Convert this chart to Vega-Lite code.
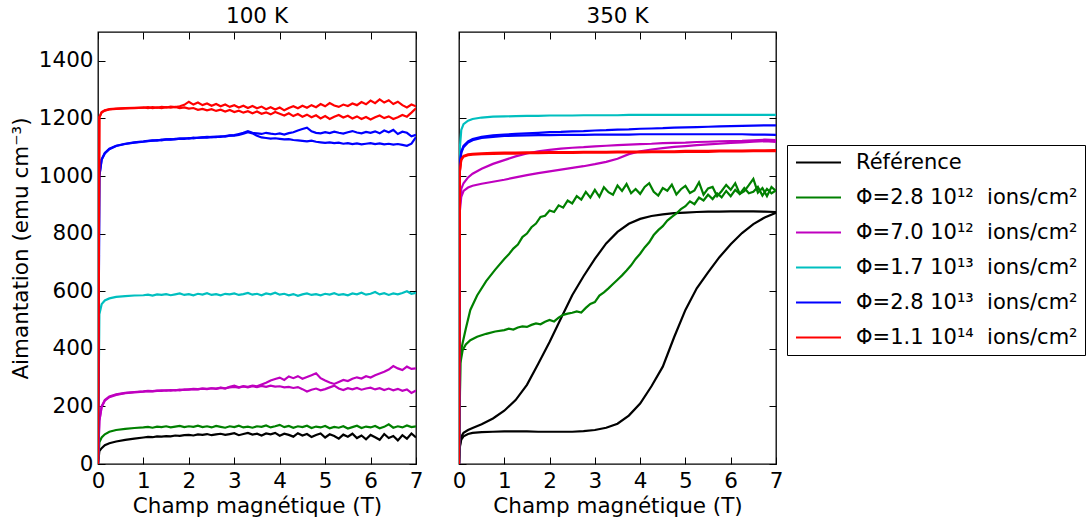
{
"$schema": "https://vega.github.io/schema/vega-lite/v6.json",
"padding": {"left": 9, "top": 5, "right": 0, "bottom": 0},
"config": {
  "font": "DejaVu Sans",
  "view": {"stroke": "black", "strokeWidth": 1.3},
  "axis": {"grid": false, "domain": false, "tickSize": -7, "tickColor": "black", "tickWidth": 1, "labelFontSize": 21.5, "labelColor": "black", "titleFontSize": 21.5, "titleFontWeight": "normal", "titleColor": "black", "labelFlush": false, "labelOverlap": false, "labelPadding": 13, "format": "d"},
  "title": {"fontSize": 21.5, "fontWeight": "normal", "color": "black", "offset": 4},
  "line": {"strokeWidth": 2.2}
},
"datasets": {
"d": [
{"panel":"100 K","series":"Référence","branch":"a","x":[0,0.03,0.08,0.15,0.25,0.4,0.6,0.8,1,1.1,1.2,1.3,1.4,1.5,1.6,1.7,1.8,1.9,2,2.1,2.2,2.3,2.4,2.5,2.6,2.7,2.8,2.9,3,3.1,3.2,3.3,3.4,3.5,3.6,3.7,3.8,3.9,4,4.1,4.2,4.3,4.4,4.5,4.6,4.7,4.8,4.9,5,5.1,5.2,5.3,5.4,5.5,5.6,5.7,5.8,5.9,6,6.1,6.2,6.3,6.4,6.5,6.6,6.7,6.8,6.9,7],
 "y":[0,45,55,65,72,78,84,88, 92,94,93,96,95,97,96,99,98,100, 101,99,103,101,104,100,103,105,101,104, 107,100,104,108,102,105,99,106,103,108, 98,105,101,95,107,99,104,94,101,106, 92,103,97,88,102,95,105,90,99,86, 101,93,84,104,90,97,82,100,88,106, 92]},
{"panel":"100 K","series":"Φ=2.8 10¹² ions/cm²","branch":"a","x":[0,0.03,0.08,0.15,0.25,0.4,0.6,0.8,1,1.1,1.2,1.3,1.4,1.5,1.6,1.7,1.8,1.9,2,2.1,2.2,2.3,2.4,2.5,2.6,2.7,2.8,2.9,3,3.1,3.2,3.3,3.4,3.5,3.6,3.7,3.8,3.9,4,4.1,4.2,4.3,4.4,4.5,4.6,4.7,4.8,4.9,5,5.1,5.2,5.3,5.4,5.5,5.6,5.7,5.8,5.9,6,6.1,6.2,6.3,6.4,6.5,6.6,6.7,6.8,6.9,7],
 "y":[0,75,92,103,112,118,122,125, 127,129,126,130,128,131,127,130,132,128, 131,129,133,128,131,127,132,129,126,131, 128,133,127,130,126,131,129,134,127,131, 136,128,132,126,131,128,133,125,130,127, 132,124,129,126,131,123,128,133,125,130, 127,132,124,129,138,126,131,127,134,128, 131]},
{"panel":"100 K","series":"Φ=7.0 10¹² ions/cm²","branch":"a","x":[0,0.03,0.08,0.15,0.25,0.4,0.6,0.8,1,1.1,1.2,1.3,1.4,1.5,1.6,1.7,1.8,1.9,2,2.1,2.2,2.3,2.4,2.5,2.6,2.7,2.8,2.9,3,3.1,3.2,3.3,3.4,3.5,3.6,3.7,3.8,3.9,4,4.1,4.2,4.3,4.4,4.5,4.6,4.7,4.8,4.9,5,5.1,5.2,5.3,5.4,5.5,5.6,5.7,5.8,5.9,6,6.1,6.2,6.3,6.4,6.5,6.6,6.7,6.8,6.9,7],
 "y":[0,150,200,222,234,242,247,250, 252,254,253,255,254,256,255,257,256,259, 258,260,259,262,260,263,261,264,262,268, 272,266,270,268,272,270,276,282,290,295, 300,292,304,298,305,296,302,308,315,298, 290,283,278,285,292,288,296,301,297,305, 300,308,314,320,328,340,332,326,338,330, 332]},
{"panel":"100 K","series":"Φ=7.0 10¹² ions/cm²","branch":"b","x":[0,0.03,0.08,0.15,0.25,0.4,0.6,0.8,1,1.1,1.2,1.3,1.4,1.5,1.6,1.7,1.8,1.9,2,2.1,2.2,2.3,2.4,2.5,2.6,2.7,2.8,2.9,3,3.1,3.2,3.3,3.4,3.5,3.6,3.7,3.8,3.9,4,4.1,4.2,4.3,4.4,4.5,4.6,4.7,4.8,4.9,5,5.1,5.2,5.3,5.4,5.5,5.6,5.7,5.8,5.9,6,6.1,6.2,6.3,6.4,6.5,6.6,6.7,6.8,6.9,7],
 "y":[0,150,198,220,232,240,246,249, 251,253,252,254,256,255,257,256,258,257, 259,261,260,262,261,263,262,265,263,266, 268,265,269,266,270,267,271,268,272,269, 270,266,268,264,267,260,252,258,262,256, 260,266,272,262,257,263,259,264,258,262, 265,259,263,257,262,256,261,254,259,247, 255]},
{"panel":"100 K","series":"Φ=1.7 10¹³ ions/cm²","branch":"a","x":[0,0.03,0.08,0.15,0.25,0.4,0.6,0.8,1,1.1,1.2,1.3,1.4,1.5,1.6,1.7,1.8,1.9,2,2.1,2.2,2.3,2.4,2.5,2.6,2.7,2.8,2.9,3,3.1,3.2,3.3,3.4,3.5,3.6,3.7,3.8,3.9,4,4.1,4.2,4.3,4.4,4.5,4.6,4.7,4.8,4.9,5,5.1,5.2,5.3,5.4,5.5,5.6,5.7,5.8,5.9,6,6.1,6.2,6.3,6.4,6.5,6.6,6.7,6.8,6.9,7],
 "y":[0,520,555,568,575,580,583,585, 586,588,585,589,587,590,586,589,592,587, 590,586,591,588,593,587,590,586,591,589, 592,587,590,594,588,591,586,592,589,595, 588,591,586,590,584,589,592,587,590,586, 591,588,593,587,590,586,592,589,595,588, 591,597,589,593,587,592,589,594,600,591, 594]},
{"panel":"100 K","series":"Φ=2.8 10¹³ ions/cm²","branch":"a","x":[0,0.03,0.08,0.15,0.25,0.4,0.6,0.8,1,1.1,1.2,1.3,1.4,1.5,1.6,1.7,1.8,1.9,2,2.1,2.2,2.3,2.4,2.5,2.6,2.7,2.8,2.9,3,3.1,3.2,3.3,3.4,3.5,3.6,3.7,3.8,3.9,4,4.1,4.2,4.3,4.4,4.5,4.6,4.7,4.8,4.9,5,5.1,5.2,5.3,5.4,5.5,5.6,5.7,5.8,5.9,6,6.1,6.2,6.3,6.4,6.5,6.6,6.7,6.8,6.9,7],
 "y":[0,1000,1058,1080,1095,1105,1112,1117, 1120,1122,1124,1123,1126,1127,1126,1129,1130,1129, 1132,1131,1133,1134,1133,1136,1135,1138,1137,1140, 1142,1146,1150,1156,1150,1148,1146,1150,1147,1145, 1148,1144,1149,1152,1158,1163,1168,1155,1150,1148, 1152,1149,1154,1150,1147,1152,1156,1151,1148,1153, 1150,1155,1148,1158,1152,1160,1146,1154,1150,1138, 1143]},
{"panel":"100 K","series":"Φ=2.8 10¹³ ions/cm²","branch":"b","x":[0,0.03,0.08,0.15,0.25,0.4,0.6,0.8,1,1.1,1.2,1.3,1.4,1.5,1.6,1.7,1.8,1.9,2,2.1,2.2,2.3,2.4,2.5,2.6,2.7,2.8,2.9,3,3.1,3.2,3.3,3.4,3.5,3.6,3.7,3.8,3.9,4,4.1,4.2,4.3,4.4,4.5,4.6,4.7,4.8,4.9,5,5.1,5.2,5.3,5.4,5.5,5.6,5.7,5.8,5.9,6,6.1,6.2,6.3,6.4,6.5,6.6,6.7,6.8,6.9,7],
 "y":[0,1000,1056,1078,1093,1104,1111,1116, 1119,1121,1123,1125,1124,1127,1128,1127,1130,1131, 1130,1133,1132,1134,1136,1135,1137,1136,1139,1141, 1140,1143,1147,1152,1148,1140,1134,1132,1130,1131, 1129,1127,1128,1125,1124,1122,1120,1123,1119,1117, 1115,1117,1114,1116,1112,1114,1111,1113,1110,1112, 1114,1111,1113,1110,1112,1109,1111,1108,1105,1112, 1135]},
{"panel":"100 K","series":"Φ=1.1 10¹⁴ ions/cm²","branch":"a","x":[0,0.03,0.08,0.15,0.25,0.4,0.6,0.8,1,1.1,1.2,1.3,1.4,1.5,1.6,1.7,1.8,1.9,2,2.1,2.2,2.3,2.4,2.5,2.6,2.7,2.8,2.9,3,3.1,3.2,3.3,3.4,3.5,3.6,3.7,3.8,3.9,4,4.1,4.2,4.3,4.4,4.5,4.6,4.7,4.8,4.9,5,5.1,5.2,5.3,5.4,5.5,5.6,5.7,5.8,5.9,6,6.1,6.2,6.3,6.4,6.5,6.6,6.7,6.8,6.9,7],
 "y":[0,1205,1222,1228,1232,1234,1236,1237, 1238,1236,1239,1237,1240,1238,1241,1239,1242,1247, 1258,1248,1255,1246,1252,1244,1250,1242,1248,1240, 1246,1238,1244,1236,1243,1235,1241,1232,1239,1231, 1238,1228,1236,1242,1235,1244,1237,1246,1239,1250, 1242,1253,1245,1240,1248,1243,1252,1246,1257,1249, 1262,1253,1266,1255,1263,1250,1258,1246,1238,1248, 1242]},
{"panel":"100 K","series":"Φ=1.1 10¹⁴ ions/cm²","branch":"b","x":[0,0.03,0.08,0.15,0.25,0.4,0.6,0.8,1,1.1,1.2,1.3,1.4,1.5,1.6,1.7,1.8,1.9,2,2.1,2.2,2.3,2.4,2.5,2.6,2.7,2.8,2.9,3,3.1,3.2,3.3,3.4,3.5,3.6,3.7,3.8,3.9,4,4.1,4.2,4.3,4.4,4.5,4.6,4.7,4.8,4.9,5,5.1,5.2,5.3,5.4,5.5,5.6,5.7,5.8,5.9,6,6.1,6.2,6.3,6.4,6.5,6.6,6.7,6.8,6.9,7],
 "y":[0,1203,1220,1227,1231,1233,1235,1236, 1237,1239,1236,1238,1236,1239,1237,1240,1236,1238, 1234,1236,1230,1233,1228,1232,1226,1230,1224,1229, 1222,1227,1220,1225,1218,1224,1216,1221,1214,1222, 1216,1210,1218,1208,1215,1206,1213,1204,1211,1200, 1208,1198,1206,1212,1203,1209,1200,1207,1198,1205, 1196,1204,1210,1201,1207,1198,1204,1212,1206,1220, 1235]},
{"panel":"350 K","series":"Référence","branch":"a","x":[0,0.02,0.05,0.1,0.2,0.3,0.5,0.75,1,1.25,1.5,1.75,2,2.25,2.5,2.75,3,3.25,3.5,3.75,4,4.25,4.5,4.75,5,5.25,5.5,5.75,6,6.25,6.5,6.75,7],
 "y":[0,60,85,96,104,108,111, 112,113,113,113,112,112,112,112,114,118,126,140,168,210,270,338,440,535,610,665,718,763,802,833,856,872]},
{"panel":"350 K","series":"Référence","branch":"b","x":[0,0.02,0.05,0.1,0.2,0.3,0.5,0.75,1,1.25,1.5,1.75,2,2.25,2.5,2.75,3,3.25,3.5,3.75,4,4.25,4.5,4.75,5,5.25,5.5,5.75,6,6.25,6.5,6.75,7],
 "y":[0,65,95,108,118,125,138, 158,185,222,275,348,424,505,586,652,712,766,806,834,851,861,867,871,873,875,876,876,877,877,877,876,875]},
{"panel":"350 K","series":"Φ=2.8 10¹² ions/cm²","branch":"a","x":[0,0.03,0.08,0.15,0.25,0.4,0.6,0.8,1,1.1,1.2,1.3,1.4,1.5,1.6,1.7,1.8,1.9,2,2.1,2.2,2.3,2.4,2.5,2.6,2.7,2.8,2.9,3,3.1,3.2,3.3,3.4,3.5,3.6,3.7,3.8,3.9,4,4.1,4.2,4.3,4.4,4.5,4.6,4.7,4.8,4.9,5,5.1,5.2,5.3,5.4,5.5,5.6,5.7,5.8,5.9,6,6.1,6.2,6.3,6.4,6.5,6.6,6.7,6.8,6.9,7],
 "y":[0,350,395,415,430,442,452,460, 465,470,467,474,478,476,483,488,485,494, 500,495,508,518,522,525,530,526,542,556, 562,585,596,610,625,640,655,672,690,712, 730,752,770,795,812,826,845,858,870,885, 895,912,902,925,915,935,920,940,926,948, 930,952,938,958,940,945,962,932,955,940, 950]},
{"panel":"350 K","series":"Φ=2.8 10¹² ions/cm²","branch":"b","x":[0,0.03,0.08,0.15,0.25,0.4,0.6,0.8,1,1.1,1.2,1.3,1.4,1.5,1.6,1.7,1.8,1.9,2,2.1,2.2,2.3,2.4,2.5,2.6,2.7,2.8,2.9,3,3.1,3.2,3.3,3.4,3.5,3.6,3.7,3.8,3.9,4,4.1,4.2,4.3,4.4,4.5,4.6,4.7,4.8,4.9,5,5.1,5.2,5.3,5.4,5.5,5.6,5.7,5.8,5.9,6,6.1,6.2,6.3,6.4,6.5,6.6,6.7,6.8,6.9,7],
 "y":[0,380,420,470,535,585,635,675, 712,728,748,762,788,800,822,835,858,862, 880,875,898,890,915,905,930,918,945,925, 952,928,961,944,935,967,948,972,940,955, 938,962,975,945,932,958,949,970,936,954, 966,941,950,978,935,957,962,930,948,969, 952,975,938,947,968,990,942,958,930,962, 948]},
{"panel":"350 K","series":"Φ=7.0 10¹² ions/cm²","branch":"a","x":[0,0.02,0.05,0.1,0.2,0.3,0.5,0.75,1,1.25,1.5,1.75,2,2.25,2.5,2.75,3,3.25,3.5,3.75,4,4.25,4.5,4.75,5,5.25,5.5,5.75,6,6.25,6.5,6.75,7],
 "y":[0,900,955,975,995,1008,1025, 1042,1055,1068,1078,1086,1091,1095,1098,1100,1103,1105,1107,1109,1111,1112,1114,1115,1116,1118,1119,1120,1121,1122,1124,1126,1125]},
{"panel":"350 K","series":"Φ=7.0 10¹² ions/cm²","branch":"b","x":[0,0.02,0.05,0.1,0.2,0.3,0.5,0.75,1,1.25,1.5,1.75,2,2.25,2.5,2.75,3,3.25,3.5,3.75,4,4.25,4.5,4.75,5,5.25,5.5,5.75,6,6.25,6.5,6.75,7],
 "y":[0,880,928,948,960,966,973, 980,987,995,1003,1010,1016,1022,1028,1034,1041,1049,1060,1076,1086,1092,1097,1101,1104,1107,1110,1112,1115,1117,1119,1121,1118]},
{"panel":"350 K","series":"Φ=1.7 10¹³ ions/cm²","branch":"a","x":[0,0.02,0.05,0.1,0.2,0.3,0.5,0.75,1,1.25,1.5,1.75,2,2.25,2.5,2.75,3,3.25,3.5,3.75,4,4.25,4.5,4.75,5,5.25,5.5,5.75,6,6.25,6.5,6.75,7],
 "y":[0,1100,1160,1180,1192,1198,1203, 1206,1207,1208,1209,1209,1210,1210,1210,1211,1211,1211,1211,1212,1212,1212,1212,1212,1212,1212,1212,1212,1212,1212,1212,1212,1212]},
{"panel":"350 K","series":"Φ=2.8 10¹³ ions/cm²","branch":"a","x":[0,0.02,0.05,0.1,0.2,0.3,0.5,0.75,1,1.25,1.5,1.75,2,2.25,2.5,2.75,3,3.25,3.5,3.75,4,4.25,4.5,4.75,5,5.25,5.5,5.75,6,6.25,6.5,6.75,7],
 "y":[0,1040,1085,1105,1120,1128,1136, 1141,1144,1146,1148,1150,1152,1153,1155,1156,1158,1159,1161,1162,1164,1165,1166,1168,1169,1170,1171,1172,1173,1174,1175,1176,1176]},
{"panel":"350 K","series":"Φ=2.8 10¹³ ions/cm²","branch":"b","x":[0,0.02,0.05,0.1,0.2,0.3,0.5,0.75,1,1.25,1.5,1.75,2,2.25,2.5,2.75,3,3.25,3.5,3.75,4,4.25,4.5,4.75,5,5.25,5.5,5.75,6,6.25,6.5,6.75,7],
 "y":[0,1035,1080,1100,1116,1124,1132, 1136,1139,1140,1141,1142,1142,1143,1143,1143,1144,1144,1144,1144,1145,1145,1145,1145,1145,1145,1145,1145,1145,1145,1144,1144,1143]},
{"panel":"350 K","series":"Φ=1.1 10¹⁴ ions/cm²","branch":"a","x":[0,0.02,0.05,0.1,0.2,0.3,0.5,0.75,1,1.25,1.5,1.75,2,2.25,2.5,2.75,3,3.25,3.5,3.75,4,4.25,4.5,4.75,5,5.25,5.5,5.75,6,6.25,6.5,6.75,7],
 "y":[0,1020,1058,1070,1075,1077,1079, 1080,1081,1081,1082,1082,1083,1083,1083,1084,1084,1084,1085,1085,1085,1086,1086,1086,1087,1087,1087,1088,1088,1088,1089,1089,1090]},
{"panel":"350 K","series":"Φ=1.1 10¹⁴ ions/cm²","branch":"b","x":[0,0.02,0.05,0.1,0.2,0.3,0.5,0.75,1,1.25,1.5,1.75,2,2.25,2.5,2.75,3,3.25,3.5,3.75,4,4.25,4.5,4.75,5,5.25,5.5,5.75,6,6.25,6.5,6.75,7],
 "y":[0,1015,1055,1067,1072,1074,1076, 1077,1078,1078,1079,1079,1080,1080,1080,1081,1081,1081,1082,1082,1082,1083,1083,1083,1084,1084,1084,1085,1085,1085,1086,1086,1086]}
]
},
"spacing": 27,
"resolve": {"legend": {"color": "independent"}},
"hconcat": [
{
  "width": 318, "height": 432,
  "title": "100 K",
  "data": {"name": "d"},
  "transform": [{"filter": "datum.panel === '100 K'"}, {"flatten": ["x", "y"]}],
  "layer": [
    {"mark": {"type": "line", "clip": true},
     "encoding": {
       "x": {"field": "x", "type": "quantitative", "scale": {"domain": [0, 7], "nice": false}, "axis": {"orient": "bottom", "values": [0,1,2,3,4,5,6,7], "title": "Champ magnétique (T)", "titlePadding": 4}},
       "y": {"field": "y", "type": "quantitative", "scale": {"domain": [0, 1500], "nice": false}, "axis": {"orient": "left", "values": [0,200,400,600,800,1000,1200,1400], "title": "Aimantation (emu cm⁻³)", "labelPadding": 12, "titlePadding": 6}},
       "color": {"field": "series", "type": "nominal", "scale": {"domain": ["Référence","Φ=2.8 10¹² ions/cm²","Φ=7.0 10¹² ions/cm²","Φ=1.7 10¹³ ions/cm²","Φ=2.8 10¹³ ions/cm²","Φ=1.1 10¹⁴ ions/cm²"], "range": ["#000000","#008000","#bf00bf","#00bfbf","#0000ff","#ff0000"]}, "legend": null},
       "detail": {"field": "branch"}
     }},
    {"mark": {"type": "line", "opacity": 0},
     "encoding": {
       "x": {"field": "x", "type": "quantitative", "scale": {"domain": [0, 7], "nice": false}, "axis": {"orient": "top", "values": [0,1,2,3,4,5,6,7], "labels": false, "title": null}},
       "y": {"field": "y", "type": "quantitative", "scale": {"domain": [0, 1500], "nice": false}, "axis": {"orient": "right", "values": [0,200,400,600,800,1000,1200,1400], "labels": false, "title": null}}
     }}
  ],
  "resolve": {"axis": {"x": "independent", "y": "independent"}}
},
{
  "width": 317, "height": 432,
  "title": "350 K",
  "data": {"name": "d"},
  "transform": [{"filter": "datum.panel === '350 K'"}, {"flatten": ["x", "y"]}],
  "layer": [
    {"mark": {"type": "line", "clip": true},
     "encoding": {
       "x": {"field": "x", "type": "quantitative", "scale": {"domain": [0, 7], "nice": false}, "axis": {"orient": "bottom", "values": [0,1,2,3,4,5,6,7], "title": "Champ magnétique (T)", "titlePadding": 4}},
       "y": {"field": "y", "type": "quantitative", "scale": {"domain": [0, 1500], "nice": false}, "axis": {"orient": "left", "values": [0,200,400,600,800,1000,1200,1400], "labels": false, "title": null}},
       "color": {"field": "series", "type": "nominal", "scale": {"domain": ["Référence","Φ=2.8 10¹² ions/cm²","Φ=7.0 10¹² ions/cm²","Φ=1.7 10¹³ ions/cm²","Φ=2.8 10¹³ ions/cm²","Φ=1.1 10¹⁴ ions/cm²"], "range": ["#000000","#008000","#bf00bf","#00bfbf","#0000ff","#ff0000"]},
         "legend": {"orient": "none", "legendX": 328, "legendY": 113, "title": null, "labelExpr": "replace(datum.label, ' ions', '\u00a0\u00a0ions')", "symbolType": "M-3,0H3", "symbolSize": 225, "symbolStrokeWidth": 2.5, "symbolOffset": 14, "labelOffset": 27, "labelFontSize": 21, "labelColor": "black", "labelLimit": 400, "strokeColor": "black", "fillColor": "white", "padding": 7, "rowPadding": 13}},
       "detail": {"field": "branch"}
     }},
    {"mark": {"type": "line", "opacity": 0},
     "encoding": {
       "x": {"field": "x", "type": "quantitative", "scale": {"domain": [0, 7], "nice": false}, "axis": {"orient": "top", "values": [0,1,2,3,4,5,6,7], "labels": false, "title": null}},
       "y": {"field": "y", "type": "quantitative", "scale": {"domain": [0, 1500], "nice": false}, "axis": {"orient": "right", "values": [0,200,400,600,800,1000,1200,1400], "labels": false, "title": null}}
     }}
  ],
  "resolve": {"axis": {"x": "independent", "y": "independent"}}
}
]
}
